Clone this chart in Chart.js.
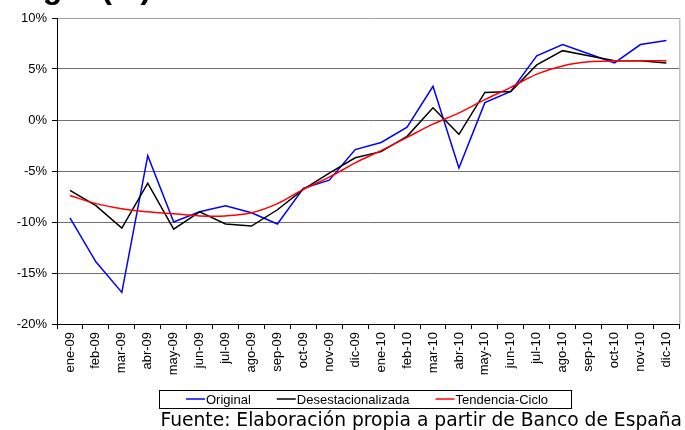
<!DOCTYPE html>
<html>
<head>
<meta charset="utf-8">
<script src="https://cdn.jsdelivr.net/npm/chart.js@4/dist/chart.umd.min.js"></script>
<style>
  html, body { margin: 0; padding: 0; background: #fff; }
</style>
</head>
<body>
<canvas id="grafico" width="685" height="430"></canvas>
<script>
// datos
var meses = ['ene-09', 'feb-09', 'mar-09', 'abr-09', 'may-09', 'jun-09', 'jul-09', 'ago-09',
  'sep-09', 'oct-09', 'nov-09', 'dic-09', 'ene-10', 'feb-10', 'mar-10', 'abr-10', 'may-10',
  'jun-10', 'jul-10', 'ago-10', 'sep-10', 'oct-10', 'nov-10', 'dic-10'];
var original = [-9.6, -13.9, -16.9, -3.5, -10.0, -9.0, -8.4, -9.1, -10.2, -6.7, -5.9, -2.9,
  -2.2, -0.7, 3.3, -4.7, 1.7, 2.8, 6.3, 7.4, 6.5, 5.6, 7.4, 7.8];
var desestacionalizada = [-6.9, -8.4, -10.6, -6.2, -10.7, -9.0, -10.2, -10.4, -8.8, -6.8, -5.2, -3.7,
  -3.1, -1.6, 1.2, -1.4, 2.7, 2.8, 5.4, 6.8, 6.3, 5.8, 5.8, 5.6];
var tendenciaCiclo = [-7.4, -8.2, -8.7, -9.0, -9.2, -9.4, -9.4, -9.1, -8.2, -6.8, -5.6, -4.2,
  -3.0, -1.7, -0.4, 0.7, 2.0, 3.2, 4.5, 5.3, 5.7, 5.8, 5.8, 5.8];
var ticksY = [-20, -15, -10, -5, 0, 5, 10];
var titulo = 'Hogar (%)';
var fuente = 'Fuente: Elaboración propia a partir de Banco de España';

var fuenteEjes = { family: "'Liberation Sans', Arial, sans-serif", size: 13 };

// titulo (recortado arriba), marco derecho, leyenda y fuente
var extras = {
  id: 'extras',
  afterDraw: function (chart) {
    var ctx = chart.ctx;
    var area = chart.chartArea;
    ctx.save();

    // titulo
    ctx.fillStyle = '#000';
    ctx.font = "bold 32px 'Liberation Sans', Arial, sans-serif";
    ctx.textBaseline = 'alphabetic';
    ctx.textAlign = 'left';
    ctx.fillText(titulo, 0, -2);

    // borde derecho del area
    ctx.strokeStyle = '#a0a0a0';
    ctx.lineWidth = 1;
    ctx.beginPath();
    ctx.moveTo(area.right + 0.5, area.top);
    ctx.lineTo(area.right + 0.5, area.bottom);
    ctx.stroke();

    // leyenda
    ctx.font = "13px 'Liberation Sans', Arial, sans-serif";
    ctx.textBaseline = 'middle';
    var x = 186, y = 399;
    var items = chart.data.datasets;
    var fin = x;
    items.forEach(function (ds, i) {
      ctx.strokeStyle = ds.borderColor;
      ctx.lineWidth = 1.5;
      ctx.beginPath();
      ctx.moveTo(x, y);
      ctx.lineTo(x + 19, y);
      ctx.stroke();
      ctx.fillStyle = '#000';
      ctx.fillText(ds.label, x + 20, y + 1);
      fin = x + 20 + ctx.measureText(ds.label).width;
      x = fin + 26;
    });
    ctx.strokeStyle = '#000';
    ctx.lineWidth = 1;
    ctx.strokeRect(159.5, 390.5, fin + 23 - 159, 18);

    // fuente
    ctx.textBaseline = 'alphabetic';
    ctx.textAlign = 'right';
    ctx.font = "16px 'DejaVu Sans', Verdana, sans-serif";
    var w = ctx.measureText(fuente).width;
    var tam = 16 * 522 / w;
    ctx.font = tam.toFixed(2) + "px 'DejaVu Sans', Verdana, sans-serif";
    ctx.fillText(fuente, 682, 426);

    ctx.restore();
  }
};

var config = {
  type: 'line',
  data: {
    labels: meses,
    datasets: [
      { label: 'Original', data: original, borderColor: '#0000ff', borderWidth: 1.5,
        pointRadius: 0, tension: 0, order: 3 },
      { label: 'Desestacionalizada', data: desestacionalizada, borderColor: '#000000', borderWidth: 1.5,
        pointRadius: 0, tension: 0, order: 2 },
      { label: 'Tendencia-Ciclo', data: tendenciaCiclo, borderColor: '#ff0000', borderWidth: 1.5,
        pointRadius: 0, tension: 0.35, order: 1 }
    ]
  },
  options: {
    responsive: false,
    animation: false,
    devicePixelRatio: 1,
    layout: { padding: { left: 0, right: 1, top: 18, bottom: 0 } },
    plugins: {
      legend: { display: false },
      tooltip: { enabled: false }
    },
    scales: {
      x: {
        offset: true,
        grid: { drawOnChartArea: false, offset: true, tickLength: 5, tickColor: '#000' },
        border: { color: '#000', width: 1 },
        ticks: { minRotation: 90, maxRotation: 90, autoSkip: false, color: '#000',
          font: fuenteEjes, padding: 3 },
        afterFit: function (s) { s.height = 106; }
      },
      y: {
        min: -20,
        max: 10,
        afterBuildTicks: function (s) {
          s.ticks = ticksY.map(function (v) { return { value: v }; });
        },
        grid: {
          color: function (c) { return c.tick && c.tick.value === 10 ? '#a0a0a0' : '#707070'; },
          tickLength: 5,
          tickColor: '#000'
        },
        border: { color: '#000', width: 1 },
        ticks: {
          color: '#000',
          font: fuenteEjes,
          padding: 5,
          callback: function (v) { return v + '%'; }
        },
        afterFit: function (s) { s.width = 57; }
      }
    }
  },
  plugins: [extras]
};

var ctxGrafico = document.getElementById('grafico').getContext('2d');
new Chart(ctxGrafico, config);
</script>
</body>
</html>
